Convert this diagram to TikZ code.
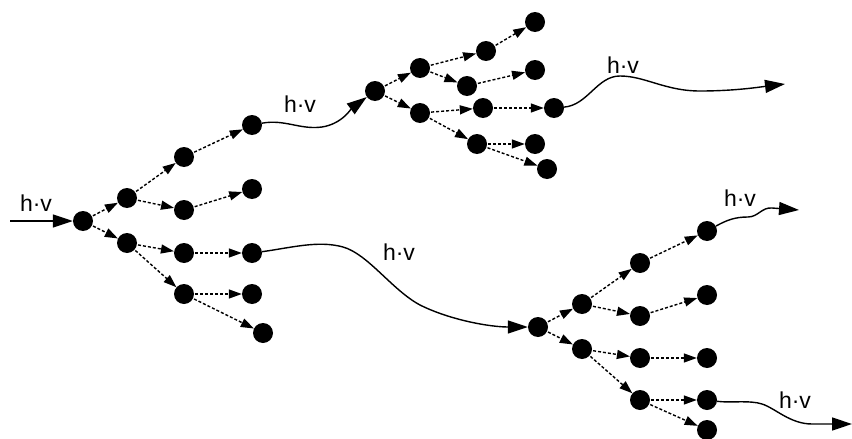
\documentclass[tikz,border=0pt]{standalone}
\usepackage{fontspec}
\setmainfont{Liberation Sans}
\usetikzlibrary{arrows.meta}
\begin{document}
\begin{tikzpicture}[x=1pt,y=-1pt,
  dot/.style={circle,fill=black,inner sep=0pt,minimum size=20pt},
  hop/.style={line width=1.4pt,dash pattern=on 3pt off 2pt,
    -{Triangle[length=13pt,width=9pt]},shorten <=1pt},
  wave/.style={line width=1.4pt,-{Triangle[length=20pt,width=13pt]}},
  lbl/.style={font=\fontsize{23}{26}\selectfont,inner sep=0pt}]
\useasboundingbox (0,0) rectangle (852,439);

% left cluster
\node[dot] (a0) at (83,221) {};
\node[dot] (a1) at (127,198) {};
\node[dot] (a2) at (127,243) {};
\node[dot] (a3) at (184,157) {};
\node[dot] (a4) at (184,210) {};
\node[dot] (a5) at (252,125) {};
\node[dot] (a6) at (252,189) {};
\node[dot] (a7) at (184,253) {};
\node[dot] (a8) at (252,253) {};
\node[dot] (a9) at (184,294) {};
\node[dot] (a10) at (252,294) {};
\node[dot] (a11) at (263,333) {};

% upper right cluster
\node[dot] (b0) at (375,91) {};
\node[dot] (b1) at (420,68) {};
\node[dot] (b2) at (420,113) {};
\node[dot] (b3) at (486,51) {};
\node[dot] (b4) at (467,86) {};
\node[dot] (b5) at (535,22) {};
\node[dot] (b6) at (535,70) {};
\node[dot] (b7) at (483,108) {};
\node[dot] (b8) at (554,108) {};
\node[dot] (b9) at (477,144) {};
\node[dot] (b10) at (535,144) {};
\node[dot] (b11) at (547,169) {};

% lower right cluster
\node[dot] (c0) at (538,327) {};
\node[dot] (c1) at (582,304) {};
\node[dot] (c2) at (582,349) {};
\node[dot] (c3) at (640,263) {};
\node[dot] (c4) at (640,316) {};
\node[dot] (c5) at (707,231) {};
\node[dot] (c6) at (707,295) {};
\node[dot] (c7) at (640,358) {};
\node[dot] (c8) at (707,358) {};
\node[dot] (c9) at (640,400) {};
\node[dot] (c10) at (707,400) {};
\node[dot] (c11) at (707,430) {};

% branching steps
\foreach \s/\t in {0/1,0/2,1/3,1/4,3/5,4/6,2/7,2/9,7/8,9/10,9/11}{
  \draw[hop] (a\s) -- (a\t);
  \draw[hop] (b\s) -- (b\t);
  \draw[hop] (c\s) -- (c\t);
}

% free ends of the long connectors
\coordinate (in) at (10,221);
\coordinate (e2) at (785,84);
\coordinate (e4) at (799,210);
\coordinate (e5) at (852,424);

\draw[wave] (in) -- (a0);
\draw[wave] (a5) .. controls (285,119) and (300,130) .. (322,127)
  .. controls (342,124) and (352,108) .. (b0);
\draw[wave] (b8) .. controls (588,105) and (597,76) .. (620,76)
  .. controls (645,76) and (665,91) .. (700,91)
  .. controls (735,91) and (760,87) .. (e2);
\draw[wave] (a8) .. controls (290,248) and (318,240) .. (343,247)
  .. controls (368,254) and (392,290) .. (420,305)
  .. controls (450,320) and (490,327) .. (c0);
\draw[wave] (c5) .. controls (727,220) and (735,217) .. (748,217)
  .. controls (758,217) and (762,207) .. (772,208) -- (e4);
\draw[wave] (c10) .. controls (730,403) and (750,400) .. (762,404)
  .. controls (775,408) and (790,424) .. (812,424) -- (e5);

% labels
\node[lbl] (l1) at (36,203) {h·v};
\node[lbl] (l2) at (300,104) {h·v};
\node[lbl] (l3) at (623,65) {h·v};
\node[lbl] (l4) at (399,252) {h·v};
\node[lbl] (l5) at (740,198) {h·v};
\node[lbl] (l6) at (795,400) {h·v};
\end{tikzpicture}
\end{document}
